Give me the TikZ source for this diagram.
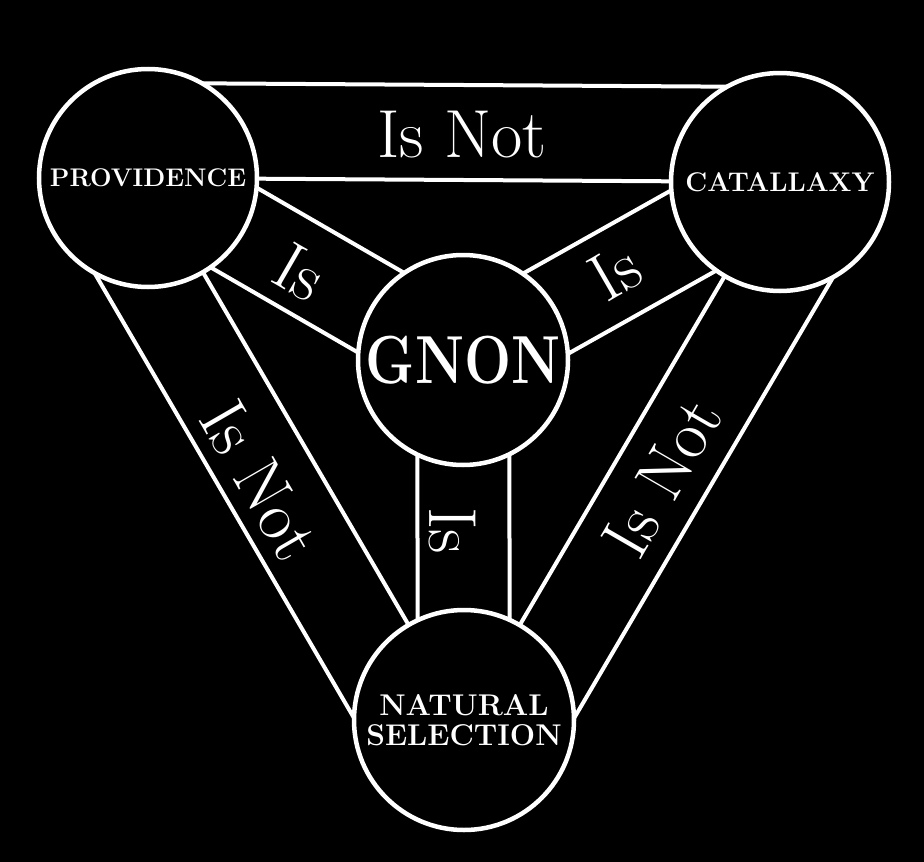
\documentclass[tikz,border=0pt]{standalone}
\usetikzlibrary{calc}
\tikzset{
  hub/.style={circle, draw=white, line width=4.5pt, fill=black, inner sep=0pt,
    minimum size=#1, text=white, align=center},
  band/.style={draw=white, line width=4pt},
  rel/.style={text=white, inner sep=0pt, font=\fontsize{68}{68}\selectfont},
  tag/.style={font=\bfseries\fontsize{#1}{#1}\selectfont},
}
\begin{document}
\begin{tikzpicture}[x=1pt,y=1pt,yscale=-1]
		% background
		\fill[black] (0,0) rectangle (924,862);
		\useasboundingbox (0,0) rectangle (924,862);
		
		% centres of the four circles
		\coordinate (P) at (148,178);
		\coordinate (C) at (780,182);
		\coordinate (G) at (463,360);
		\coordinate (N) at (464,720);
		
		%Is Not bands: inner line on the axis, outer line pushed out
		\draw[band] (P) -- (C);
		\draw[band] ($(P)!95pt!-90:(C)$) -- ($(C)!95pt!90:(P)$);
		\draw[band] (P) -- (N);
		\draw[band] ($(P)!94pt!90:(N)$) -- ($(N)!94pt!-90:(P)$);
		\draw[band] (C) -- (N);
		\draw[band] ($(C)!94pt!-90:(N)$) -- ($(N)!94pt!90:(C)$);
		
		%Is bands: centred on the axis
		\foreach \a/\b in {P/G, C/G, G/N}{
			\draw[band] ($(\a)!46pt!90:(\b)$) -- ($(\b)!46pt!-90:(\a)$);
			\draw[band] ($(\a)!46pt!-90:(\b)$) -- ($(\b)!46pt!90:(\a)$);
		}
		
		%Shape: Circles
		\node[hub=218pt, tag=25.5] (prov) at (P) {PROVIDENCE};
		\node[hub=218pt, tag=27] (cat) at (C) {CATALLAXY};
		\node[hub=210pt, font=\bfseries\fontsize{68}{68}\selectfont] (gnon) at (G) {\raisebox{-9pt}{\scalebox{0.82}[1]{GNON}}};
		\node[hub=220pt, tag=30] (nat) at (N) {NATURAL\\[0pt]SELECTION};
		
		% Text Node
		\node[rel] (top) at (462,135) {Is Not};
		% Text Node
		\node[rel, rotate=-30] (pg) at (300,272) {Is};
		% Text Node
		\node[rel, rotate=30] (cg) at (615,272) {Is};
		% Text Node
		\node[rel, rotate=-90] (gn) at (452,531) {Is};
		% Text Node
		\node[rel, rotate=-60] (pn) at (260,480) {Is Not};
		% Text Node
		\node[rel, rotate=60] (cn) at (662,478) {Is Not};
	\end{tikzpicture}
\end{document}
